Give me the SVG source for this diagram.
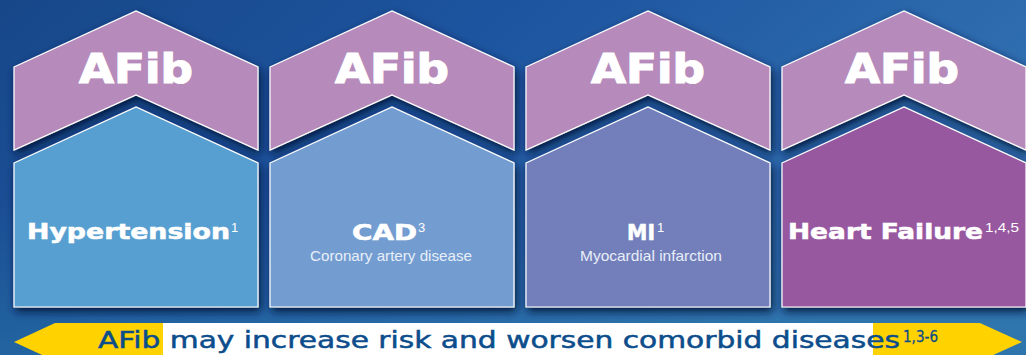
<svg xmlns="http://www.w3.org/2000/svg" width="1026" height="355" viewBox="0 0 1026 355">
  <defs>
    <linearGradient id="bg" x1="0" y1="0" x2="1" y2="0.4">
      <stop offset="0" stop-color="#174789"/>
      <stop offset="0.45" stop-color="#1d55a0"/>
      <stop offset="1" stop-color="#3272b2"/>
    </linearGradient>
    <linearGradient id="bgLow" x1="0" y1="0" x2="0" y2="1">
      <stop offset="0" stop-color="#2a78a8" stop-opacity="0"/>
      <stop offset="1" stop-color="#2a7aa6" stop-opacity="0.45"/>
    </linearGradient>
    <filter id="shadow" x="-10%" y="-15%" width="125%" height="135%">
      <feGaussianBlur in="SourceAlpha" stdDeviation="4.5"/>
      <feOffset dx="2" dy="4" result="blur"/>
      <feFlood flood-color="#04163a" flood-opacity="0.95"/>
      <feComposite in2="blur" operator="in"/>
      <feMerge>
        <feMergeNode/>
        <feMergeNode in="SourceGraphic"/>
      </feMerge>
    </filter>
    <!-- upper chevron and lower house outlines, in column-local coordinates -->
    <path id="chevron" d="M0,56 L122,0 L244,56 L244,139 L122,84 L0,139 Z"/>
    <path id="house" d="M0,152 L122,96 L244,152 L244,296 L0,296 Z"/>
  </defs>
  <style>
    .chev { fill: #b68bbb; stroke: #ffffff; stroke-width: 1.2; }
    .house { stroke: #ffffff; stroke-width: 1.2; }
    .afib { font-family: "DejaVu Sans", "Liberation Sans", sans-serif; font-weight: bold; font-size: 41px; fill: #ffffff; stroke: #ffffff; stroke-width: 1.2; }
    .title { font-family: "DejaVu Sans", "Liberation Sans", sans-serif; font-weight: bold; font-size: 22px; fill: #ffffff; stroke: #ffffff; stroke-width: 0.6; }
    .sup { font-family: "Liberation Sans", "DejaVu Sans", sans-serif; font-size: 13px; fill: #ffffff; }
    .sub { font-family: "Liberation Sans", "DejaVu Sans", sans-serif; font-size: 14.5px; fill: #e8eef8; }
    .banner { font-family: "DejaVu Sans", "Liberation Sans", sans-serif; font-size: 23px; fill: #0c4d8c; stroke: #0c4d8c; stroke-width: 0.5; }
    .bsup { font-family: "DejaVu Sans", "Liberation Sans", sans-serif; font-size: 15px; fill: #0c4d8c; stroke: #0c4d8c; stroke-width: 0.3; }
  </style>

  <!-- background -->
  <rect width="1026" height="355" fill="url(#bg)"/>
  <rect y="200" width="1026" height="155" fill="url(#bgLow)"/>

  <!-- column 1 -->
  <g id="hypertension" transform="translate(14,11)">
    <use href="#chevron" class="chev" filter="url(#shadow)"/>
    <use href="#house" class="house" fill="#589fd1" filter="url(#shadow)"/>
    <text class="afib" x="122" y="72" text-anchor="middle" textLength="114" lengthAdjust="spacingAndGlyphs">AFib</text>
    <text class="title" x="13" y="228" textLength="203" lengthAdjust="spacingAndGlyphs">Hypertension</text>
    <text class="sup" x="217" y="221" font-size="11">1</text>
  </g>

  <!-- column 2 -->
  <g id="cad" transform="translate(270,11)">
    <use href="#chevron" class="chev" filter="url(#shadow)"/>
    <use href="#house" class="house" fill="#739dd1" filter="url(#shadow)"/>
    <text class="afib" x="122" y="72" text-anchor="middle" textLength="114" lengthAdjust="spacingAndGlyphs">AFib</text>
    <text class="title" x="82" y="229" font-size="23" textLength="65" lengthAdjust="spacingAndGlyphs">CAD</text>
    <text class="sup" x="148" y="221">3</text>
    <text class="sub" x="121" y="250" text-anchor="middle" textLength="162" lengthAdjust="spacingAndGlyphs">Coronary artery disease</text>
  </g>

  <!-- column 3 -->
  <g id="mi" transform="translate(526,11)">
    <use href="#chevron" class="chev" filter="url(#shadow)"/>
    <use href="#house" class="house" fill="#727fbb" filter="url(#shadow)"/>
    <text class="afib" x="122" y="72" text-anchor="middle" textLength="114" lengthAdjust="spacingAndGlyphs">AFib</text>
    <text class="title" x="101" y="229" font-size="23" textLength="28" lengthAdjust="spacingAndGlyphs">MI</text>
    <text class="sup" x="131" y="221">1</text>
    <text class="sub" x="125" y="250" text-anchor="middle" textLength="142" lengthAdjust="spacingAndGlyphs">Myocardial infarction</text>
  </g>

  <!-- column 4 -->
  <g id="heart-failure" transform="translate(782,11)">
    <use href="#chevron" class="chev" filter="url(#shadow)"/>
    <use href="#house" class="house" fill="#9858a0" filter="url(#shadow)"/>
    <text class="afib" x="120" y="72" text-anchor="middle" textLength="114" lengthAdjust="spacingAndGlyphs">AFib</text>
    <text class="title" x="6" y="228" textLength="195" lengthAdjust="spacingAndGlyphs">Heart Failure</text>
    <text class="sup" x="203" y="221" textLength="34" lengthAdjust="spacingAndGlyphs">1,4,5</text>
  </g>

  <!-- bottom double-headed banner -->
  <g id="banner">
    <path d="M55,323 L163,323 L163,361 L55,361 L14,342 Z" fill="#ffd200"/>
    <rect x="163" y="323" width="710" height="38" fill="#ffffff"/>
    <path d="M873,323 L980,323 L1022,342 L980,361 L873,361 Z" fill="#ffd200"/>
    <text class="banner" x="98" y="348" textLength="802" lengthAdjust="spacingAndGlyphs">AFib may increase risk and worsen comorbid diseases</text>
    <text class="bsup" x="903" y="342" textLength="35" lengthAdjust="spacingAndGlyphs">1,3-6</text>
  </g>
</svg>
